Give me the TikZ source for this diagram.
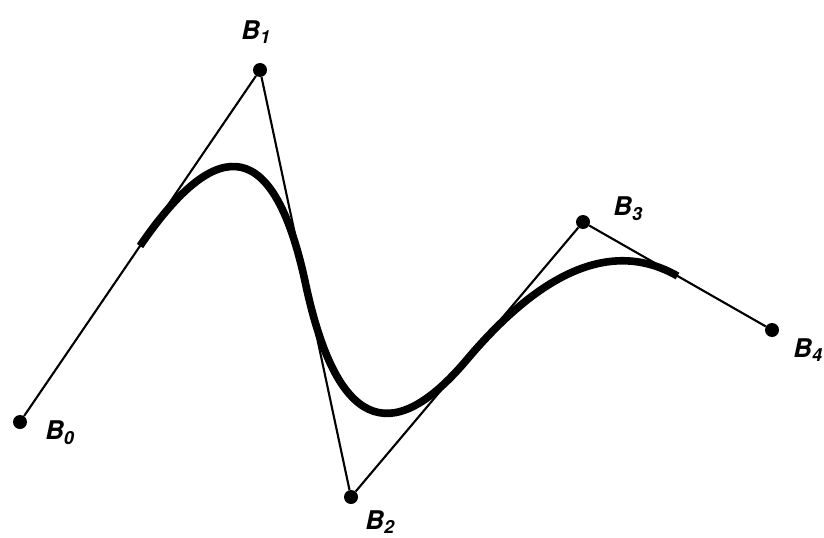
\documentclass[tikz,border=0pt]{standalone}
\usepackage{fontspec}
\setsansfont{TeX Gyre Heros}
\usetikzlibrary{calc}

\begin{document}
\begin{tikzpicture}[x=0.03cm, y=-0.03cm,
  dot/.style={circle, fill=black, inner sep=0pt, minimum size=0.42cm},
  lbl/.style={font=\sffamily\bfseries\itshape\fontsize{22}{26}\selectfont, inner sep=1pt},
  poly/.style={line width=1.8pt},
  spline/.style={line width=6.5pt}]
\useasboundingbox (0,0) rectangle (824,537);
% control points
\node[dot] (b0) at (20,422) {};
\node[dot] (b1) at (260,70) {};
\node[dot] (b2) at (351,497) {};
\node[dot] (b3) at (583,222) {};
\node[dot] (b4) at (772,330) {};
\node[lbl] (l0) at (60,433) {B\textsubscript{0}};
\node[lbl] (l1) at (256,32) {B\textsubscript{1}};
\node[lbl] (l2) at (380,522) {B\textsubscript{2}};
\node[lbl] (l3) at (628,209) {B\textsubscript{3}};
\node[lbl] (l4) at (808,350) {B\textsubscript{4}};
% control polygon
\draw[poly] (b0) -- (b1) -- (b2) -- (b3) -- (b4);
% quadratic spline through the edge midpoints
\coordinate (m01) at ($(b0)!0.5!(b1)$);
\coordinate (m12) at ($(b1)!0.5!(b2)$);
\coordinate (m23) at ($(b2)!0.5!(b3)$);
\coordinate (m34) at ($(b3)!0.5!(b4)$);
\draw[spline] (m01) .. controls ($(m01)!2/3!(b1)$) and ($(m12)!2/3!(b1)$) .. (m12)
  .. controls ($(m12)!2/3!(b2)$) and ($(m23)!2/3!(b2)$) .. (m23)
  .. controls ($(m23)!2/3!(b3)$) and ($(m34)!2/3!(b3)$) .. (m34);
\end{tikzpicture}
\end{document}
